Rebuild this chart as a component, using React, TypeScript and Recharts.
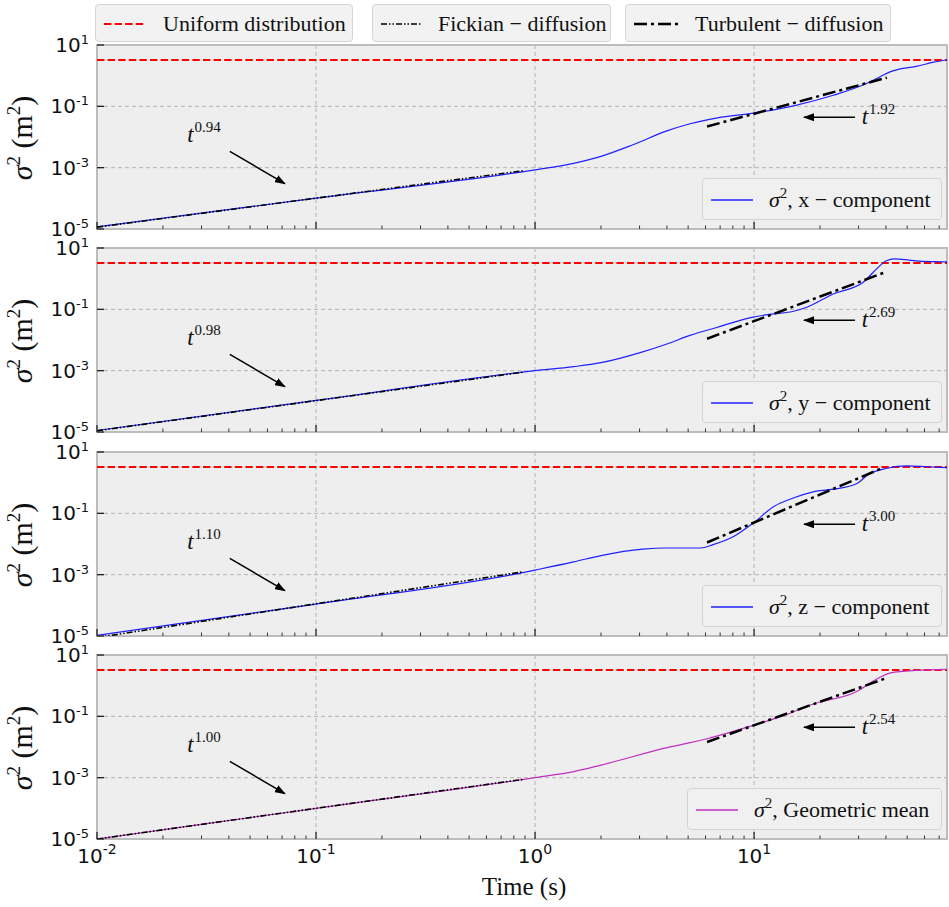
import React from "react";
import {
  CartesianGrid,
  Line,
  LineChart,
  ReferenceArea,
  ReferenceDot,
  ReferenceLine,
  XAxis,
  YAxis,
} from "recharts";

// axes
const xDomain = [0.01, 76];
const xMajor = [0.01, 0.1, 1, 10];
const xMajorLabels = ["-2", "-1", "0", "1"];
const xMinor = [
  0.02, 0.03, 0.04, 0.05, 0.06, 0.07, 0.08, 0.09,
  0.2, 0.3, 0.4, 0.5, 0.6, 0.7, 0.8, 0.9,
  2, 3, 4, 5, 6, 7, 8, 9,
  20, 30, 40, 50, 60, 70,
];
const yDomain = [1e-5, 10];
const yTicks = [1e-5, 1e-3, 1e-1, 10];
const yTickLabels = ["-5", "-3", "-1", "1"];

const uniformLevel = 3.25;

// sigma^2, x-component
const tX = [0.01, 0.1, 1, 1.5, 2, 2.8, 4, 5.1, 6.8, 9.9, 15, 23, 33, 38, 42, 48, 55, 66, 76];
const sigmaX = [1.17e-5, 1.02e-4, 8.5e-4, 1.38e-3, 2.34e-3, 5.6e-3, 1.58e-2, 2.7e-2, 4.2e-2, 6.0e-2, 0.102, 0.229, 0.575, 0.955, 1.35, 1.74, 2.0, 2.75, 3.24];
// sigma^2, y-component
const tY = [0.01, 0.1, 1, 1.5, 2, 3.1, 4, 5.1, 6.8, 9.9, 12.3, 15, 17.4, 23, 31.5, 35, 40.4, 43.4, 50, 55, 66, 76];
const sigmaY = [1.12e-5, 1.07e-4, 1.0e-3, 1.35e-3, 1.82e-3, 4.1e-3, 7.4e-3, 1.41e-2, 2.6e-2, 5.6e-2, 7.1e-2, 8.5e-2, 0.117, 0.316, 0.76, 1.62, 3.9, 4.4, 4.1, 3.8, 3.6, 3.55];
// sigma^2, z-component
const tZ = [0.01, 0.1, 0.88, 1, 1.5, 2, 3.1, 4, 5.7, 6.5, 8.1, 9.9, 12.3, 15, 18.8, 24.7, 29.6, 33, 40.4, 50, 62, 76];
const sigmaZ = [1.05e-5, 1.1e-4, 1.17e-3, 1.41e-3, 2.6e-3, 4.2e-3, 6.8e-3, 7.4e-3, 7.4e-3, 9.5e-3, 1.78e-2, 4.8e-2, 0.166, 0.31, 0.51, 0.66, 0.95, 1.78, 2.95, 3.55, 3.3, 3.1];
// sigma^2, geometric mean
const tG = [0.01, 0.1, 1, 1.5, 2, 4, 6.1, 8.1, 9.9, 13.7, 18.8, 29.6, 35, 42, 55, 76];
const sigmaG = [1.0e-5, 1.0e-4, 1.0e-3, 1.58e-3, 2.57e-3, 9.5e-3, 1.86e-2, 3.3e-2, 5.1e-2, 0.107, 0.257, 0.66, 1.41, 2.63, 3.16, 3.39];

// fitted power laws (end points)
const fickT = [[0.01, 0.88], [0.01, 0.88], [0.01, 0.88], [0.01, 0.88]];
const fickV = [[1.15e-5, 7.9e-4], [1.1e-5, 8.9e-4], [8.9e-6, 1.23e-3], [1.0e-5, 8.8e-4]];
const turbT = [[6.1, 40.4], [6.1, 40.4], [6.1, 38.3], [6.1, 39.6]];
const turbV = [[2.2e-2, 0.86], [1.1e-2, 1.7], [1.12e-2, 2.95], [1.45e-2, 1.7]];
const fickExp = ["0.94", "0.98", "1.10", "1.00"];
const turbExp = ["1.92", "2.69", "3.00", "2.54"];

const seriesT = [tX, tY, tZ, tG];
const seriesV = [sigmaX, sigmaY, sigmaZ, sigmaG];
const seriesNames = ["x \u2212 component", "y \u2212 component", "z \u2212 component", "Geometric mean"];
const seriesColors = ["#2020ff", "#2020ff", "#2020ff", "#c030c0"];

const zip = (ts: number[], vs: number[]) => ts.map((t, i) => ({ t, v: vs[i] }));

const SERIF = "'Liberation Serif', 'Times New Roman', serif";
const SANS = "'DejaVu Sans', sans-serif";
const panelTops = [45, 248, 452, 655];
const PLOT_H = 184;

function XTick(props: any) {
  const { x, y, payload, showLabel } = props;
  const i = xMajor.indexOf(payload.value);
  const major = i >= 0;
  return (
    <g>
      <line x1={x} x2={x} y1={y} y2={y - (major ? 7 : 3.5)} stroke="#222" strokeWidth={major ? 1.3 : 0.9} />
      {major && showLabel && (
        <text x={x} y={y + 24} textAnchor="middle" fontFamily={SANS} fontSize={20} fill="#111">
          10<tspan dy={-9} fontSize={14}>{xMajorLabels[i]}</tspan>
        </text>
      )}
    </g>
  );
}

function YTick(props: any) {
  const { x, y, payload } = props;
  const i = yTicks.indexOf(payload.value);
  return (
    <g>
      <line x1={x} x2={x + 7} y1={y} y2={y} stroke="#222" strokeWidth={1.3} />
      <text x={x - 8} y={y + 7} textAnchor="end" fontFamily={SANS} fontSize={20} fill="#111">
        10<tspan dy={-8} fontSize={13}>{yTickLabels[i]}</tspan>
      </text>
    </g>
  );
}

function PowerLabel({ cx, cy, exp }: any) {
  return (
    <text x={cx} y={cy} fontFamily={SERIF} fontSize={23} fill="#111">
      <tspan fontStyle="italic">t</tspan>
      <tspan dy={-10} dx={1} fontSize={15}>{exp}</tspan>
    </text>
  );
}

function Sigma2({ size = 15, lift = -9 }: { size?: number; lift?: number }) {
  return (
    <>
      <span style={{ fontStyle: "italic" }}>σ</span>
      <span style={{ fontSize: size, position: "relative", top: lift }}>2</span>
    </>
  );
}

function Panel({ idx }: { idx: number }) {
  const last = idx === 3;
  const main = zip(seriesT[idx], seriesV[idx]);
  const fick = zip(fickT[idx], fickV[idx]);
  const turb = zip(turbT[idx], turbV[idx]);
  const mid = `ah${idx}`;
  const legendLeft = last ? 687 : 702;
  return (
    <div style={{ position: "absolute", left: 0, top: panelTops[idx] }}>
      <LineChart width={949} height={PLOT_H + (last ? 40 : 1)} margin={{ top: 0, right: 2, bottom: 0, left: 0 }}>
        <defs>
          <marker id={mid} markerUnits="userSpaceOnUse" markerWidth={11} markerHeight={8} refX={10} refY={4} orient="auto">
            <path d="M0,0 L11,4 L0,8 z" fill="#000" />
          </marker>
        </defs>
        <CartesianGrid
          fill="#eeeeee"
          stroke="#b4b4b4"
          strokeDasharray="4 3"
          horizontalValues={yTicks}
          verticalValues={[0.1, 1, 10]}
        />
        <XAxis
          dataKey="t"
          type="number"
          scale="log"
          domain={xDomain}
          allowDataOverflow
          ticks={[...xMajor, ...xMinor]}
          interval={0}
          tick={(p: any) => <XTick {...p} showLabel={last} />}
          tickSize={0}
          tickMargin={0}
          tickLine={false}
          axisLine={false}
          height={last ? 40 : 1}
        />
        <YAxis
          type="number"
          scale="log"
          domain={yDomain}
          allowDataOverflow
          ticks={yTicks}
          interval={0}
          tick={(p: any) => <YTick {...p} />}
          tickSize={0}
          tickMargin={0}
          tickLine={false}
          axisLine={false}
          width={97}
        />
        <ReferenceLine y={uniformLevel} stroke="#ff0000" strokeWidth={2} strokeDasharray="7.4 3.2" />
        <Line data={main} dataKey="v" type="monotone" stroke={seriesColors[idx]} strokeWidth={1.2} dot={false} isAnimationActive={false} />
        <Line data={fick} dataKey="v" type="linear" stroke="#000" strokeWidth={1.6} strokeDasharray="6 2 1.5 2 1.5 2" dot={false} isAnimationActive={false} />
        <Line data={turb} dataKey="v" type="linear" stroke="#000" strokeWidth={2.5} strokeDasharray="13 4 3 4" dot={false} isAnimationActive={false} />
        <ReferenceDot x={0.0258} y={7.1e-3} r={0} shape={(p: any) => <PowerLabel {...p} exp={fickExp[idx]} />} />
        <ReferenceDot x={31} y={2.6e-2} r={0} shape={(p: any) => <PowerLabel {...p} exp={turbExp[idx]} />} />
        <ReferenceLine
          segment={[{ x: 0.0404, y: 3.4e-3 }, { x: 0.0721, y: 3.0e-4 }]}
          shape={(p: any) => <line x1={p.x1} y1={p.y1} x2={p.x2} y2={p.y2} stroke="#000" strokeWidth={1.5} markerEnd={`url(#${mid})`} />}
        />
        <ReferenceLine
          segment={[{ x: 28.9, y: 4.4e-2 }, { x: 16.9, y: 4.4e-2 }]}
          shape={(p: any) => <line x1={p.x1} y1={p.y1} x2={p.x2} y2={p.y2} stroke="#000" strokeWidth={1.5} markerEnd={`url(#${mid})`} />}
        />
        <ReferenceArea x1={xDomain[0]} x2={xDomain[1]} y1={yDomain[0]} y2={yDomain[1]} fill="none" stroke="#bcbcbc" strokeWidth={2} fillOpacity={0} />
      </LineChart>
      <div
        style={{
          position: "absolute",
          left: legendLeft,
          top: 133,
          width: 942 - legendLeft,
          height: 42,
          boxSizing: "border-box",
          border: "1px solid #d4d4d4",
          borderRadius: 4,
          background: "#f0f0f0",
        }}
      >
        <svg style={{ position: "absolute", left: 8, top: 15 }} width={44} height={12}>
          <line x1={0} x2={42} y1={6} y2={6} stroke={seriesColors[idx]} strokeWidth={1.3} />
        </svg>
        <div
          style={{
            position: "absolute",
            left: 66,
            top: 0,
            lineHeight: "42px",
            fontFamily: SERIF,
            fontSize: 22,
            color: "#111",
            whiteSpace: "nowrap",
          }}
        >
          <Sigma2 />, {seriesNames[idx]}
        </div>
      </div>
      <div
        style={{
          position: "absolute",
          left: 24,
          top: 93,
          transform: "translate(-50%, -50%) rotate(-90deg)",
          fontFamily: SERIF,
          fontSize: 30,
          lineHeight: "34px",
          color: "#111",
          whiteSpace: "nowrap",
        }}
      >
        <Sigma2 size={19} lift={-12} /> (m<span style={{ fontSize: 19, position: "relative", top: -12 }}>2</span>)
      </div>
    </div>
  );
}

const topLegend = [
  { label: "Uniform distribution", left: 95, width: 258, color: "#ff0000", w: 2, dash: "7.4 3.2", len: 42 },
  { label: "Fickian \u2212 diffusion", left: 372, width: 239, color: "#000", w: 1.6, dash: "6 2 1.5 2 1.5 2", len: 40 },
  { label: "Turbulent \u2212 diffusion", left: 625, width: 266, color: "#000", w: 2.5, dash: "13 4 3 4", len: 44 },
];

export default function App() {
  return (
    <div style={{ position: "absolute", left: 0, top: 0, width: 949, height: 907, background: "#fff" }}>
      <style>{"svg.recharts-surface { overflow: visible; }"}</style>
      {topLegend.map((e) => (
        <div
          key={e.label}
          style={{
            position: "absolute",
            left: e.left,
            top: 4,
            width: e.width,
            height: 38,
            boxSizing: "border-box",
            border: "1px solid #d4d4d4",
            borderRadius: 4,
            background: "#f2f2f2",
          }}
        >
          <svg style={{ position: "absolute", left: 8, top: 13 }} width={46} height={12}>
            <line x1={0} x2={e.len} y1={6} y2={6} stroke={e.color} strokeWidth={e.w} strokeDasharray={e.dash} />
          </svg>
          <div
            style={{
              position: "absolute",
              left: e.len + 25,
              top: 0,
              lineHeight: "38px",
              fontFamily: SERIF,
              fontSize: 22,
              color: "#111",
              whiteSpace: "nowrap",
            }}
          >
            {e.label}
          </div>
        </div>
      ))}
      {[0, 1, 2, 3].map((i) => (
        <Panel key={i} idx={i} />
      ))}
      <div
        style={{
          position: "absolute",
          left: 524,
          top: 872,
          transform: "translateX(-50%)",
          fontFamily: SERIF,
          fontSize: 25,
          lineHeight: "30px",
          color: "#111",
          whiteSpace: "nowrap",
        }}
      >
        Time (s)
      </div>
    </div>
  );
}
